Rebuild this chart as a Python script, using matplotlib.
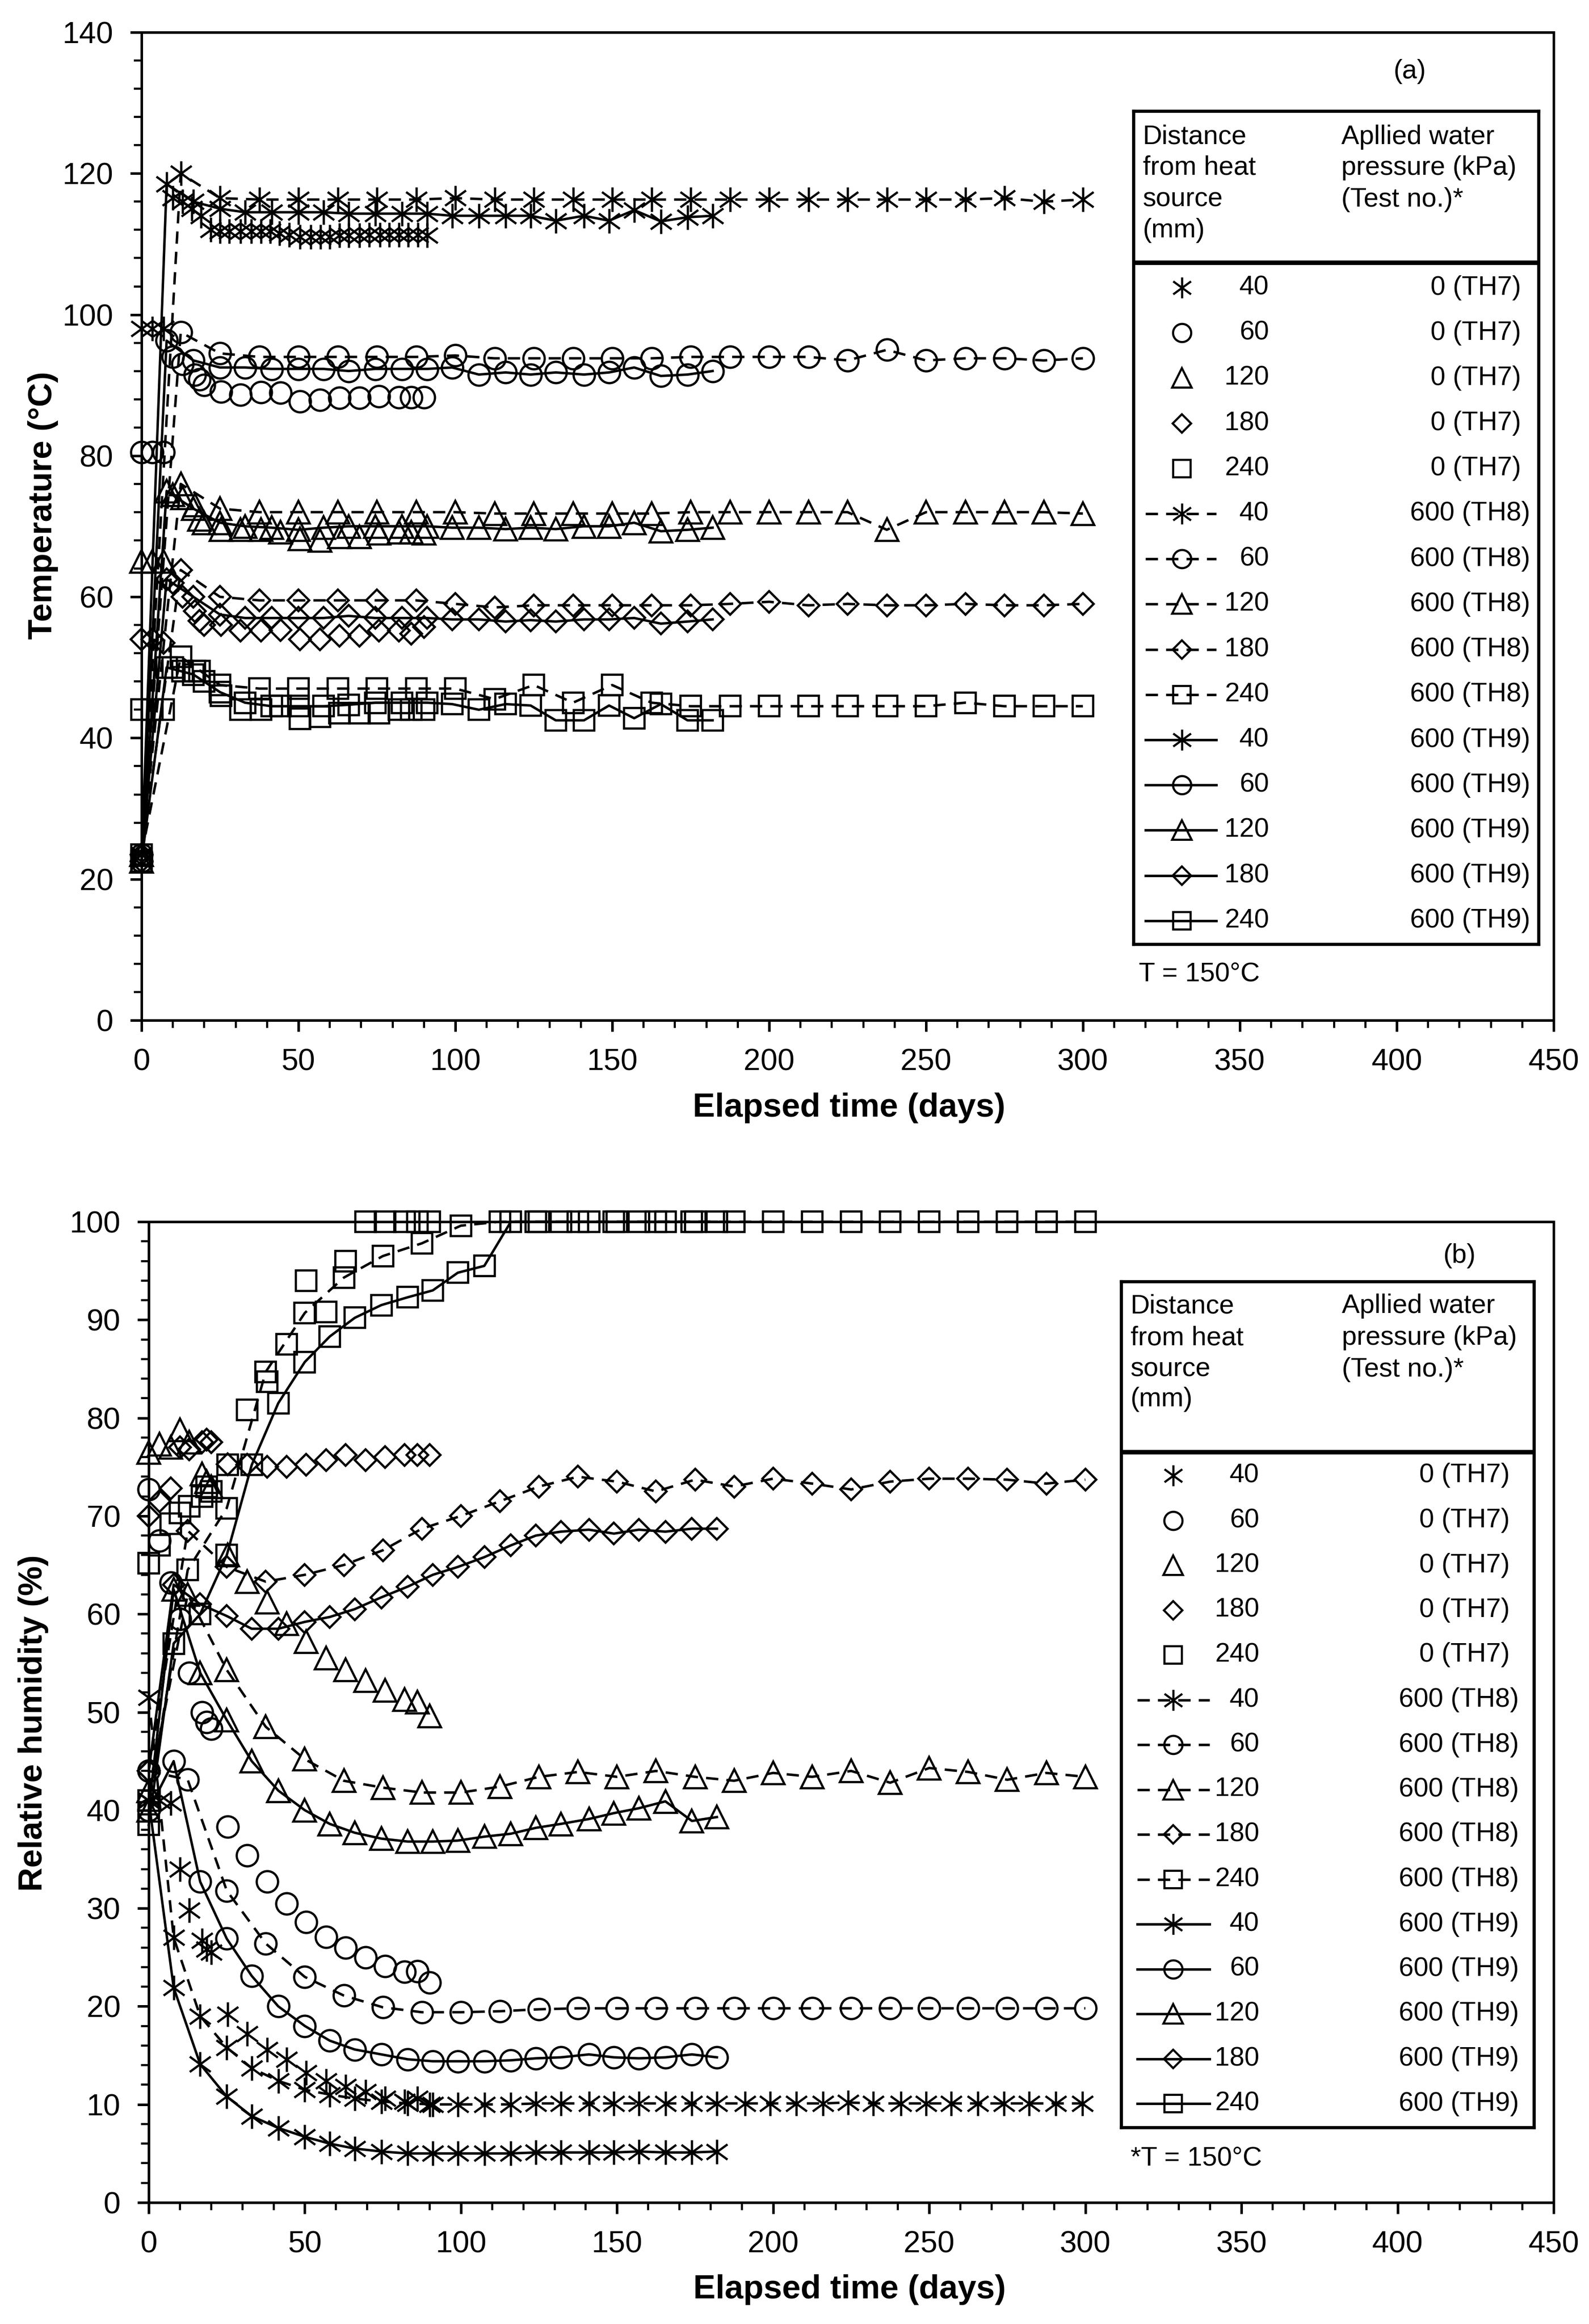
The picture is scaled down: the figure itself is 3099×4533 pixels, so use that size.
import matplotlib
matplotlib.use('Agg')
import matplotlib.pyplot as plt
from matplotlib.path import Path
from matplotlib.ticker import MultipleLocator

plt.rcParams['font.family'] = ['Liberation Sans', 'DejaVu Sans']

W, H, DPI = 3099, 4533, 300

# ---------------- sampling times (days) ----------------
th7_days = [0, 3.5, 7, 10, 13, 17, 18.5, 20, 25.3, 31.6, 38, 44.2, 50.5, 56.8, 63, 69.4, 75.7, 82, 86, 90]
th7_days_t40 = [0, 3.5, 7, 10, 13, 16, 19, 22, 25, 28, 31.5, 35, 38, 41, 44, 47, 50.5, 54, 57, 60,
                63, 66, 69.5, 72.5, 76, 79, 82, 85, 88, 91]
th8_days = [0, 12.5, 25, 37.5, 50, 62.5, 75, 87.5, 100, 112.5, 125, 137.5, 150, 162.5, 175, 187.5,
            200, 212.5, 225, 237.5, 250, 262.5, 275, 287.5, 300]
th9_days = [0, 8, 16.5, 25, 33, 41.5, 50, 58, 66, 74.5, 83, 91, 99, 107.5, 116, 124, 132, 141, 149,
            157, 165.5, 174, 182]
th8_days_rh40 = [0, 8, 16.5, 25, 33, 41.5, 50, 58, 66, 74.5, 83, 91, 99, 107.5, 116, 124, 132, 141, 149,
                 157, 165.5, 174, 182, 191, 199, 207.5, 216, 224, 232, 241, 249, 257, 265.5, 274, 282,
                 290.5, 299]

# ---------------- (a) temperature, deg C ----------------
t_th7_40 = [98, 98, 98, 116.5, 116, 115, 114, 112, 111.8, 111.8, 111.8, 111.8, 111.8, 111.8, 111.5, 111.3,
            111, 111, 111, 111, 111.2, 111.2, 111.2, 111.3, 111.3, 111.3, 111.3, 111.3, 111.3, 111.2]
t_th7_60 = [80.5, 80.5, 80.5, 94, 93, 91.5, 90.8, 90, 89.1, 88.6, 89, 88.9, 87.7, 87.9, 88.2, 88.2, 88.4, 88.3, 88.3, 88.3]
t_th7_120 = [65, 65, 65, 74.5, 74, 73, 71, 70.5, 69.5, 69.5, 69.5, 69.2, 68.2, 68, 68.5, 68.5, 69, 69.2, 69.2, 69]
t_th7_180 = [54, 54, 53.5, 62, 60, 58, 56.6, 56, 56, 55.2, 55.2, 55.3, 54, 54, 54.5, 54.5, 55.2, 55.2, 54.8, 55.7]
t_th7_240 = [44, 44, 44, 50, 49.5, 49.5, 49.5, 48, 46, 44, 44, 44.5, 42.7, 43, 43.5, 43.5, 43.5, 44, 44, 44]

t_th8_40 = [23.5, 120, 116.5, 116.3, 116.3, 116.3, 116.3, 116.3, 116.5, 116.3, 116.3, 116.3, 116.3, 116.3,
            116.3, 116.3, 116.3, 116.3, 116.3, 116.3, 116.3, 116.3, 116.5, 116, 116.3]
t_th8_60 = [23.5, 97.5, 94.5, 94, 94, 94, 94, 94, 94.2, 93.8, 93.8, 93.8, 93.8, 93.8, 94, 94, 94, 94, 93.5,
            95, 93.5, 93.8, 93.8, 93.5, 93.8]
t_th8_120 = [23.5, 76, 72.5, 72, 72, 72, 72, 72, 72, 71.8, 71.8, 71.8, 71.8, 71.8, 72, 72, 72, 72, 72,
             69.5, 72, 72, 72, 72, 71.8]
t_th8_180 = [23.5, 63.8, 60, 59.5, 59.5, 59.5, 59.5, 59.5, 59, 58.5, 58.8, 58.8, 58.8, 58.8, 58.8, 59, 59.3,
             58.8, 59, 58.8, 58.8, 59, 58.8, 58.8, 59]
t_th8_240 = [23.5, 51.5, 47.5, 47, 47, 47, 47, 47, 47, 45.5, 47.5, 45, 47.5, 45, 44.5, 44.5, 44.5, 44.5,
             44.5, 44.5, 44.5, 45, 44.5, 44.5, 44.5]

t_th9_40 = [22.5, 118.5, 116, 115, 114.5, 114.5, 114.5, 114.5, 114.3, 114.3, 114.3, 114.3, 114, 114, 114,
            114, 113.3, 114, 113.3, 114.8, 113.2, 113.8, 114]
t_th9_60 = [22.5, 96.3, 93.5, 92.5, 92.5, 92.3, 92.3, 92.3, 92, 92.3, 92.3, 92.3, 92.5, 91.5, 91.8, 91.5,
            91.8, 91.5, 91.8, 92.5, 91.3, 91.5, 92]
t_th9_120 = [22.5, 75, 72.5, 70.5, 70, 69.8, 69.5, 69.8, 70, 70, 70, 70, 69.8, 69.8, 69.6, 69.8, 69.6, 70,
             70, 70.5, 69.3, 69.5, 69.8]
t_th9_180 = [22.5, 62.5, 60, 57.5, 57, 57, 57, 57, 57.3, 57, 57, 57, 56.8, 56.8, 56.5, 56.7, 56.5, 56.8,
             56.8, 57, 56.2, 56.5, 56.8]
t_th9_240 = [22.5, 50, 49, 46.5, 45, 44.5, 44.5, 44.5, 44.7, 45, 45, 45, 44.8, 44, 44.8, 44.6, 42.5, 42.5,
             44.6, 42.8, 44.8, 42.5, 42.5]

# ---------------- (b) relative humidity, % ----------------
r_th7_40 = [41, 41, 40.7, 34, 29.8, 26.7, 25.8, 25.5, 19.2, 17.2, 15.6, 14.6, 13.2, 12.4, 11.8, 11.3, 10.6, 10.3, 10.6, 10.0]
r_th7_60 = [72.7, 67.5, 63.2, 59.5, 54, 50, 49, 48.3, 38.3, 35.4, 32.7, 30.5, 28.6, 27.1, 26, 25, 24.1, 23.5, 23.6, 22.4]
r_th7_120 = [76.5, 77.3, 77, 78.8, 77.5, 74.3, 73.5, 73, 66, 63.3, 61.2, 59, 57.2, 55.5, 54.3, 53.2, 52.2, 51.3, 51, 49.6]
r_th7_180 = [70, 71.5, 72.8, 77, 76.8, 77.5, 77.8, 77.5, 75.3, 75.2, 75, 75, 75.2, 75.7, 76.2, 75.7, 76, 76.2, 76.2, 76.2]
r_th7_240 = [65.2, 67, 69.2, 70.3, 71, 72, 73, 72.5, 75.2, 80.8, 83.7, 87.5, 94, 90.8, 96, 100, 100, 100, 100, 100]

r_th8_40 = [51.5, 27, 19, 15.8, 13.7, 12.4, 11.5, 11, 10.6, 10.3, 10.1, 10, 10, 10, 10, 10.1, 10.1, 10.1,
            10.1, 10.1, 10.1, 10.1, 10.1, 10.1, 10.1, 10.1, 10.1, 10.2, 10.1, 10.1, 10.1, 10.1, 10.1, 10.1,
            10.1, 10.1, 10.1]
r_th8_60 = [44, 43.1, 31.8, 26.4, 23, 21.1, 19.9, 19.4, 19.4, 19.5, 19.7, 19.8, 19.8, 19.8, 19.8, 19.8,
            19.8, 19.8, 19.8, 19.8, 19.8, 19.8, 19.8, 19.8, 19.8]
r_th8_120 = [42, 62, 54.3, 48.5, 45.2, 43, 42.3, 41.8, 41.8, 42.4, 43.4, 43.9, 43.4, 44, 43.4, 43, 43.8,
             43.4, 44, 42.8, 44.3, 43.9, 43.1, 43.8, 43.4]
r_th8_180 = [44, 68.5, 64.8, 63.3, 64, 65, 66.5, 68.7, 70, 71.5, 73, 74, 73.5, 72.5, 73.7, 73, 73.8, 73.3,
             72.7, 73.5, 73.8, 73.8, 73.7, 73.3, 73.7]
r_th8_240 = [41, 64.5, 70.8, 84.7, 90.7, 94.3, 96.5, 97.8, 99.6, 100, 100, 100, 100, 100, 100, 100, 100,
             100, 100, 100, 100, 100, 100, 100, 100]

r_th9_40 = [41, 21.9, 14.1, 10.8, 8.8, 7.6, 6.7, 6.0, 5.5, 5.2, 5.0, 5.0, 5.0, 5.0, 5.0, 5.1, 5.1, 5.1,
            5.1, 5.2, 5.1, 5.1, 5.2]
r_th9_60 = [40, 45, 32.7, 26.9, 23.1, 20, 18, 16.5, 15.6, 15.1, 14.6, 14.4, 14.4, 14.4, 14.5, 14.7, 14.8,
            15.1, 14.8, 14.7, 14.8, 15.1, 14.8]
r_th9_120 = [40, 62.5, 54, 49.2, 45, 42, 40, 38.6, 37.7, 37.1, 36.8, 36.8, 36.9, 37.3, 37.6, 38.2, 38.6,
             39.1, 39.7, 40.2, 40.9, 38.9, 39.3]
r_th9_180 = [44, 63, 61, 59.8, 58.5, 58.5, 59.2, 59.7, 60.5, 61.7, 62.8, 64, 64.8, 65.8, 67, 68, 68.4,
             68.6, 68.2, 68.6, 68.4, 68.7, 68.7]
r_th9_240 = [38.5, 57, 60, 66, 75.2, 81.5, 85.7, 88.3, 90.2, 91.5, 92.3, 93, 94.8, 95.5, 100, 100, 100,
             100, 100, 100, 100, 100, 100]

distances = [40, 60, 120, 180, 240]
tests = ['TH7', 'TH8', 'TH9']
pressure_labels = {'TH7': '0 (TH7)', 'TH8': '600 (TH8)', 'TH9': '600 (TH9)'}

# ---------------- styles ----------------
ast = Path([(-0.85, -0.62), (0.85, 0.62), (-0.85, 0.62), (0.85, -0.62), (0, -1), (0, 1)],
           [Path.MOVETO, Path.LINETO, Path.MOVETO, Path.LINETO, Path.MOVETO, Path.LINETO])
MARK = {40: (ast, 11.5), 60: ('o', 10), 120: ('^', 10.5), 180: ('D', 7.2), 240: ('s', 9.5)}
LS = {'TH7': 'none', 'TH8': (0, (5, 3.3)), 'TH9': '-'}
LW = 1.15


def plot_series(ax, x, y, test, dist):
    m, ms = MARK[dist]
    ax.plot(x, y, linestyle=LS[test], lw=LW, color='black', marker=m, ms=ms,
            mfc='none', mec='black', mew=1.05, clip_on=False, zorder=3)


def fbox(l, t, r, b):
    return [l / W, 1 - b / H, (r - l) / W, (b - t) / H]


fig = plt.figure(figsize=(W / DPI, H / DPI), dpi=DPI)
ax1 = fig.add_axes(fbox(276, 63, 3030, 1990))
ax2 = fig.add_axes(fbox(290, 2383, 3030, 4296))

temp = {('TH7', 40): (th7_days_t40, t_th7_40), ('TH7', 60): (th7_days, t_th7_60),
        ('TH7', 120): (th7_days, t_th7_120), ('TH7', 180): (th7_days, t_th7_180),
        ('TH7', 240): (th7_days, t_th7_240),
        ('TH8', 40): (th8_days, t_th8_40), ('TH8', 60): (th8_days, t_th8_60),
        ('TH8', 120): (th8_days, t_th8_120), ('TH8', 180): (th8_days, t_th8_180),
        ('TH8', 240): (th8_days, t_th8_240),
        ('TH9', 40): (th9_days, t_th9_40), ('TH9', 60): (th9_days, t_th9_60),
        ('TH9', 120): (th9_days, t_th9_120), ('TH9', 180): (th9_days, t_th9_180),
        ('TH9', 240): (th9_days, t_th9_240)}
rh = {('TH7', 40): (th7_days, r_th7_40), ('TH7', 60): (th7_days, r_th7_60),
      ('TH7', 120): (th7_days, r_th7_120), ('TH7', 180): (th7_days, r_th7_180),
      ('TH7', 240): (th7_days, r_th7_240),
      ('TH8', 40): (th8_days_rh40, r_th8_40), ('TH8', 60): (th8_days, r_th8_60),
      ('TH8', 120): (th8_days, r_th8_120), ('TH8', 180): (th8_days, r_th8_180),
      ('TH8', 240): (th8_days, r_th8_240),
      ('TH9', 40): (th9_days, r_th9_40), ('TH9', 60): (th9_days, r_th9_60),
      ('TH9', 120): (th9_days, r_th9_120), ('TH9', 180): (th9_days, r_th9_180),
      ('TH9', 240): (th9_days, r_th9_240)}

for ax, data in ((ax1, temp), (ax2, rh)):
    for test in tests:
        for d in distances:
            x, y = data[(test, d)]
            plot_series(ax, x, y, test, d)

# ---------------- axes formatting ----------------
for ax, ymax, ymaj, ymin in ((ax1, 140, 20, 4), (ax2, 100, 10, 2)):
    ax.set_xlim(0, 450)
    ax.set_ylim(0, ymax)
    ax.xaxis.set_major_locator(MultipleLocator(50))
    ax.xaxis.set_minor_locator(MultipleLocator(10))
    ax.yaxis.set_major_locator(MultipleLocator(ymaj))
    ax.yaxis.set_minor_locator(MultipleLocator(ymin))
    ax.tick_params(which='major', direction='out', length=5.2, width=1.2, labelsize=14.3, pad=8)
    ax.tick_params(which='minor', direction='out', length=3.6, width=1.0)
    for s in ax.spines.values():
        s.set_linewidth(1.2)

ax1.set_ylabel('Temperature (°C)', fontsize=15.6, fontweight='bold')
ax1.yaxis.label.set_va('center')
ax1.yaxis.set_label_coords(-0.0697, 0.521)
ax1.set_xlabel('Elapsed time (days)', fontsize=15.6, fontweight='bold')
ax1.xaxis.label.set_va('center')
ax1.xaxis.set_label_coords(0.501, -0.0887)

ax2.set_ylabel('Relative humidity (%)', fontsize=15.6, fontweight='bold')
ax2.yaxis.label.set_va('center')
ax2.yaxis.set_label_coords(-0.0821, 0.489)
ax2.set_xlabel('Elapsed time (days)', fontsize=15.6, fontweight='bold')
ax2.xaxis.label.set_va('center')
ax2.xaxis.set_label_coords(0.499, -0.0889)


# ---------------- legends (drawn in pixel-space inset axes) ----------------
def draw_legend(box, hdr_ys, hdr_lx, hdr_rx, sep_y, row0, drow, mk_x, ln0, ln1, num_rx, pr_rx):
    l, t, r, b = box
    lax = fig.add_axes(fbox(l, t, r, b))
    lax.set_xlim(l, r)
    lax.set_ylim(b, t)
    lax.set_xticks([])
    lax.set_yticks([])
    for s in lax.spines.values():
        s.set_linewidth(1.5)
    left_lines = ['Distance', 'from heat', 'source', '(mm)']
    right_lines = ['Apllied water', 'pressure (kPa)', '(Test no.)*']
    for k, txt in enumerate(left_lines):
        lax.text(hdr_lx, hdr_ys[k], txt, ha='left', va='center', fontsize=12.5)
    for k, txt in enumerate(right_lines):
        lax.text(hdr_rx, hdr_ys[k], txt, ha='left', va='center', fontsize=12.5)
    lax.plot([l, r], [sep_y, sep_y], color='black', lw=2.1, solid_capstyle='butt')
    i = 0
    for test in tests:
        for d in distances:
            y = row0 + i * drow
            m, ms = MARK[d]
            if test == 'TH7':
                lax.plot([mk_x], [y], linestyle='none', marker=m, ms=ms * 0.85, mfc='none',
                         mec='black', mew=1.0)
            else:
                lax.plot([ln0, mk_x, ln1], [y, y, y], linestyle=LS[test], lw=LW, color='black',
                         marker=m, markevery=[1], ms=ms * 0.85, mfc='none', mec='black', mew=1.0)
            lax.text(num_rx, y, str(d), ha='right', va='center', fontsize=12.5)
            lax.text(pr_rx[test], y, pressure_labels[test], ha='right', va='center', fontsize=12.5)
            i += 1
    return lax


draw_legend((2211, 217, 3001, 1842), [267, 327, 389, 449], 2229, 2616, 512, 561, 88.2,
            2305, 2234, 2372, 2475, {'TH7': 2966, 'TH8': 2984, 'TH9': 2984})
draw_legend((2187, 2500, 2992, 4150), [2548, 2610, 2671, 2730], 2205, 2617, 2832, 2878, 87.5,
            2288, 2218, 2359, 2456, {'TH7': 2944, 'TH8': 2962, 'TH9': 2962})

fig.text(2750 / W, 1 - 140 / H, '(a)', ha='center', va='center', fontsize=12.5)
fig.text(2221 / W, 1 - 1901 / H, 'T = 150°C', ha='left', va='center', fontsize=12.5)
fig.text(2847 / W, 1 - 2449 / H, '(b)', ha='center', va='center', fontsize=12.5)
fig.text(2205 / W, 1 - 4211 / H, '*T = 150°C', ha='left', va='center', fontsize=12.5)

fig.savefig('out.png', dpi=DPI)
